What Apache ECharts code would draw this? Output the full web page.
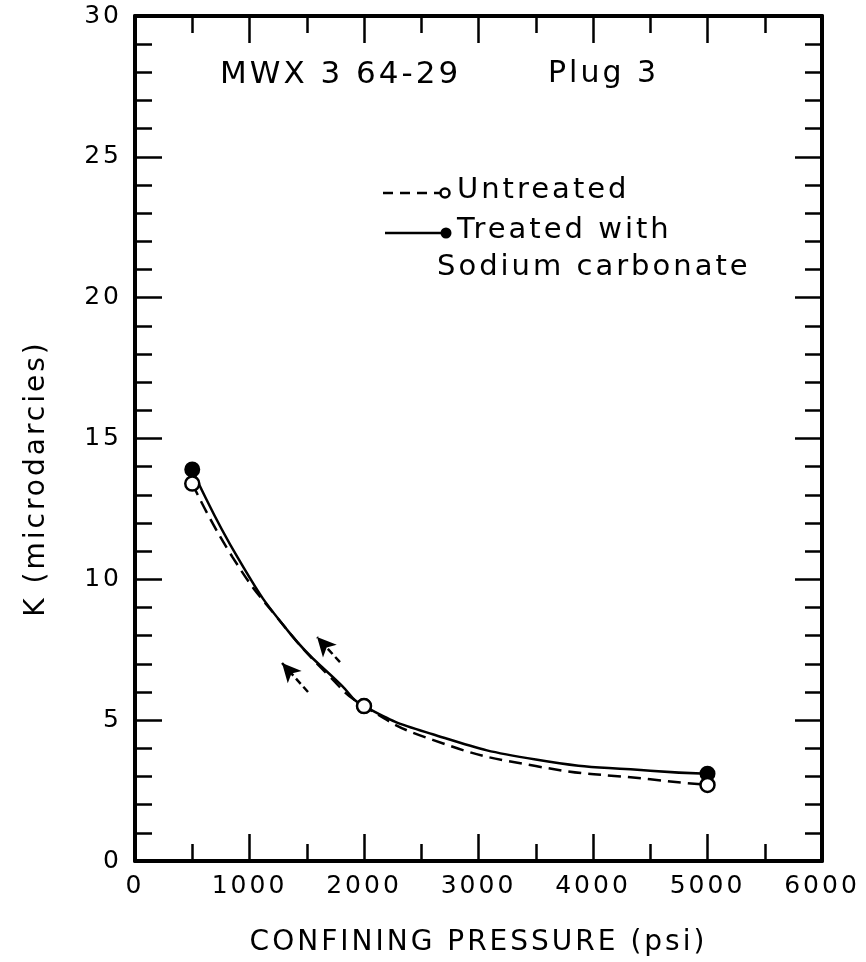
<!DOCTYPE html>
<html>
<head>
<meta charset="utf-8">
<script src="https://cdn.jsdelivr.net/npm/echarts@6/dist/echarts.min.js"></script>
<style>
html,body{margin:0;padding:0;background:#fff;}
#chart{width:866px;height:962px;}
</style>
</head>
<body>
<div id="chart"></div>
<script>
// measured points (psi, microdarcies)
var pressurePts = [500, 2000, 5000];
var untreatedK = [13.4, 5.5, 2.7];
var treatedK = [13.9, 5.5, 3.1];

var untreatedCurveX = [500, 850, 1250, 1700, 2000, 2600, 3500, 4500, 5000];
var untreatedCurveK = [13.4, 10.8, 8.6, 6.55, 5.5, 4.3, 3.37, 2.9, 2.7];
var treatedCurveX = [500, 900, 1350, 1800, 2000, 2600, 3500, 4500, 5000];
var treatedCurveK = [13.9, 10.75, 8.1, 6.25, 5.5, 4.5, 3.6, 3.2, 3.1];

// little direction arrows, tail then head
var arrowA = [[1790, 7.06], [1590, 7.95]];
var arrowB = [[1511, 6.0], [1284, 7.03]];

// axes
var xMin = 0, xMax = 6000, xStep = 1000;
var yMin = 0, yMax = 30, yStep = 5;

var font = 'DejaVu Sans';

function pairs(xs, ys){
    return xs.map(function(x, i){ return [x, ys[i]]; });
}

function frameAxis(pos, min, max, step, minorSplit, showLabel){
    return {
        type: 'value',
        position: pos,
        min: min,
        max: max,
        interval: step,
        axisLine: { show: true, onZero: false, lineStyle: { color: '#000', width: 4 } },
        axisTick: { show: true, inside: true, length: 27, lineStyle: { color: '#000', width: 2.5 } },
        minorTick: { show: true, splitNumber: minorSplit, length: 17, lineStyle: { color: '#000', width: 2.5 } },
        splitLine: { show: false },
        axisLabel: {
            show: showLabel, color: '#000', fontSize: 25, fontFamily: font, margin: 13,
            formatter: function(v){ return String(v); }
        }
    };
}

var xBottom = frameAxis('bottom', xMin, xMax, xStep, 2, true);
xBottom.name = 'CONFINING PRESSURE (psi)';
xBottom.nameLocation = 'middle';
xBottom.nameGap = 68;
xBottom.nameTextStyle = { color: '#000', fontSize: 28, fontFamily: font };

var yLeft = frameAxis('left', yMin, yMax, yStep, 5, true);
yLeft.name = 'K (microdarcies)';
yLeft.nameLocation = 'middle';
yLeft.nameGap = 84;
yLeft.nameTextStyle = { color: '#000', fontSize: 28, fontFamily: font, padding: [0, 80, 0, 0] };

var txt = { fill: '#000', fontSize: 29, fontFamily: font, verticalAlign: 'middle' };

var option = {
    animation: false,
    backgroundColor: '#fff',
    grid: { left: 135, right: 44, top: 16, bottom: 101 },
    xAxis: [xBottom, frameAxis('top', xMin, xMax, xStep, 2, false)],
    yAxis: [yLeft, frameAxis('right', yMin, yMax, yStep, 5, false)],
    series: [
        {
            type: 'line',
            data: pairs(untreatedCurveX, untreatedCurveK),
            smooth: 0.5,
            showSymbol: false,
            lineStyle: { color: '#000', width: 2.5, type: [13, 7] }
        },
        {
            type: 'line',
            data: pairs(treatedCurveX, treatedCurveK),
            smooth: 0.5,
            showSymbol: false,
            lineStyle: { color: '#000', width: 2.5 },
            markLine: {
                silent: true,
                symbol: ['none', 'arrow'],
                symbolSize: [14, 19],
                label: { show: false },
                lineStyle: { color: '#000', width: 2.5, type: [7, 4], opacity: 1 },
                data: [
                    [{ coord: arrowA[0] }, { coord: arrowA[1] }],
                    [{ coord: arrowB[0] }, { coord: arrowB[1] }]
                ]
            }
        },
        {
            type: 'scatter',
            data: pairs(pressurePts, treatedK),
            symbol: 'circle',
            symbolSize: 14,
            itemStyle: { color: '#000', borderColor: '#000', borderWidth: 2, opacity: 1 },
            z: 3
        },
        {
            type: 'scatter',
            data: pairs(pressurePts, untreatedK),
            symbol: 'circle',
            symbolSize: 14,
            itemStyle: { color: '#fff', borderColor: '#000', borderWidth: 2.5, opacity: 1 },
            z: 4
        }
    ],
    graphic: [
        { type: 'text', left: 220, top: 59, style: Object.assign({ text: 'MWX 3 64-29' }, txt, { fontSize: 31 }) },
        { type: 'text', left: 548, top: 59, style: Object.assign({ text: 'Plug 3' }, txt, { fontSize: 30 }) },
        // legend
        { type: 'line', shape: { x1: 383, y1: 193, x2: 440, y2: 193 }, style: { stroke: '#000', lineWidth: 2.5, lineDash: [10, 7] } },
        { type: 'circle', shape: { cx: 445, cy: 193, r: 4.5 }, style: { fill: '#fff', stroke: '#000', lineWidth: 2.5 } },
        { type: 'text', left: 457, top: 176, style: Object.assign({ text: 'Untreated' }, txt) },
        { type: 'line', shape: { x1: 385, y1: 233, x2: 443, y2: 233 }, style: { stroke: '#000', lineWidth: 2.5 } },
        { type: 'circle', shape: { cx: 446, cy: 233, r: 5.5 }, style: { fill: '#000' } },
        { type: 'text', left: 457, top: 216, style: Object.assign({ text: 'Treated with' }, txt) },
        { type: 'text', left: 437, top: 253, style: Object.assign({ text: 'Sodium carbonate' }, txt) }
    ]
};

var chart = echarts.init(document.getElementById('chart'));
chart.setOption(option);

// the original lettering is widely spaced, zrender has no option for it
document.querySelectorAll('#chart canvas').forEach(function(c){
    c.getContext('2d').letterSpacing = '3px';
});
chart.clear();
chart.setOption(option);
</script>
</body>
</html>
